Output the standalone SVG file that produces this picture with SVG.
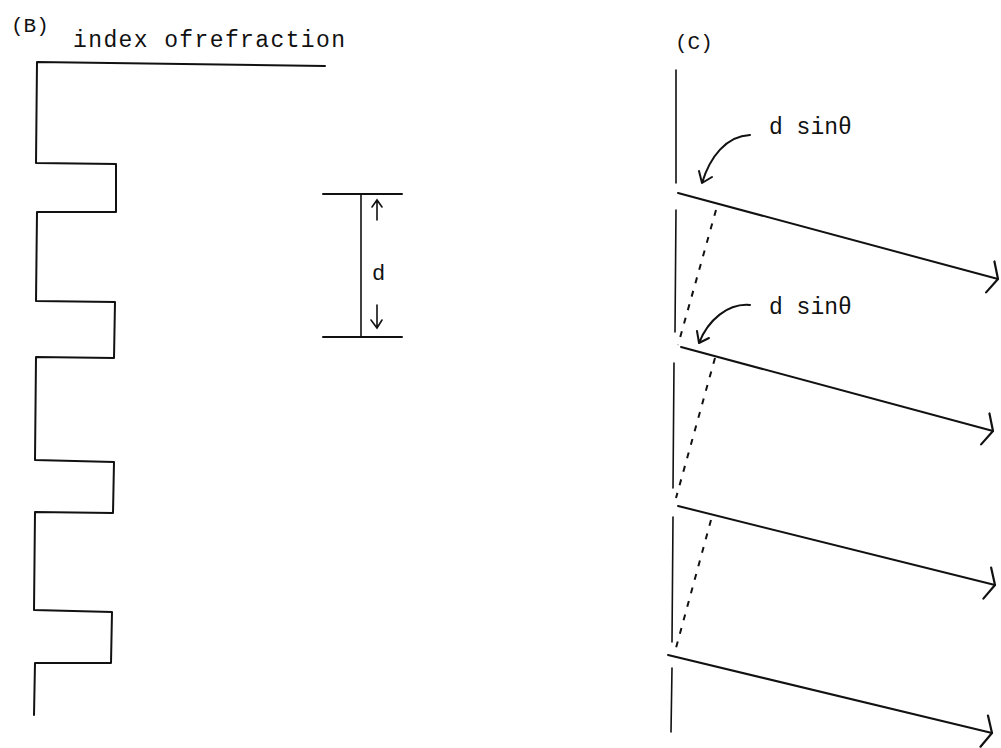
<svg xmlns="http://www.w3.org/2000/svg" width="1001" height="748" viewBox="0 0 1001 748">
<defs>
<style>
.ln{fill:none;stroke:#111;stroke-width:2;stroke-linecap:round;stroke-linejoin:round}
.th{fill:none;stroke:#111;stroke-width:1.6;stroke-linecap:round}
.ds{fill:none;stroke:#111;stroke-width:2;stroke-dasharray:6 8}
.tx{font-family:"Liberation Mono","DejaVu Sans Mono",monospace;fill:#111}
</style>
<marker id="chev" markerUnits="userSpaceOnUse" markerWidth="40" markerHeight="40" refX="0" refY="0" viewBox="-20 -20 40 40" orient="auto" overflow="visible">
<path d="M-8,-16 L0,0 L-8,16" fill="none" stroke="#111" stroke-width="2.2" stroke-linecap="round" stroke-linejoin="round"/>
</marker>
</defs>
<rect width="1001" height="748" fill="#fff"/>
<g id="panelB">
<text class="tx" x="11" y="32" font-size="21">(B)</text>
<text class="tx" x="73" y="47" font-size="23" textLength="272" lengthAdjust="spacing">index ofrefraction</text>
<path class="ln" d="M325,66 L37,62 L36,163 L116,164 L116,212 L37,212 L36,301 L115,302 L114,358 L36,357 L35,460 L114,462 L113,513 L35,512 L34,610 L112,612 L111,663 L35,663 L34,715"/>
</g>
<g id="dimension">
<line class="ln" x1="323" y1="194" x2="402" y2="194"/>
<line class="ln" x1="323" y1="337" x2="402" y2="337"/>
<line class="th" x1="361" y1="194" x2="361" y2="337"/>
<path class="th" d="M377,220 L377,200 M372,207 L377,200 L382,207"/>
<path class="th" d="M377,305 L377,328 M371,320 L377,328 L382,320"/>
<text class="tx" x="372" y="280" font-size="22">d</text>
</g>
<g id="panelC">
<text class="tx" x="675" y="49" font-size="21">(C)</text>
<path class="th" d="M676,70 L676,183 M676,210 L675,332 M674,363 L673,488 M673,517 L672,642 M672,668 L671,732"/>
<text class="tx" x="769" y="134" font-size="23">d sinθ</text>
<text class="tx" x="769" y="314" font-size="23">d sinθ</text>
</g>
<g id="connectors">
<line class="ln" x1="678" y1="193" x2="998" y2="279" marker-end="url(#chev)"/>
<line class="ln" x1="681" y1="347" x2="993" y2="431" marker-end="url(#chev)"/>
<line class="ln" x1="678" y1="506" x2="995" y2="585" marker-end="url(#chev)"/>
<line class="ln" x1="668" y1="655" x2="992" y2="733" marker-end="url(#chev)"/>
<line class="ds" x1="716" y1="210" x2="678" y2="345"/>
<line class="ds" x1="715" y1="358" x2="676" y2="498"/>
<line class="ds" x1="711" y1="520" x2="676" y2="648"/>
<path class="ln" d="M750,135 C726,136 710,157 702,183 M699,171 L702,183 L712,177"/>
<path class="ln" d="M750,305 C728,303 708,320 699,343 M697,331 L699,343 L709,338"/>
</g>
</svg>
